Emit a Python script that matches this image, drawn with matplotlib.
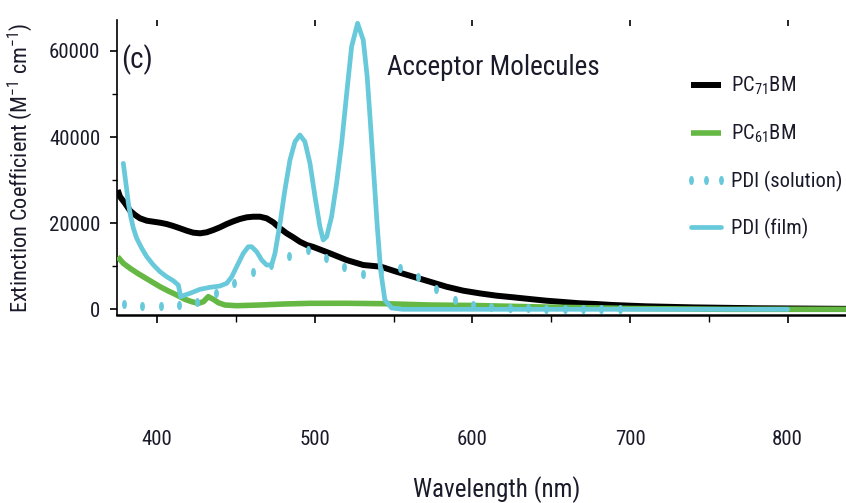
import numpy as np
import matplotlib
matplotlib.use("Agg")
import matplotlib.pyplot as plt
from matplotlib import font_manager as fm
from matplotlib.ticker import FixedLocator

# ---------------- data ----------------
pc71_wl = [375, 376.5, 379.7, 382.9, 386.1, 389.2, 393.5, 397.7, 401.9, 406.1, 410.3,
           414.6, 418.8, 423, 427.3, 431.5, 435.7, 439.9, 444.2, 448.4, 452.6, 456.9,
           461, 465.3, 469.5, 473.7, 478, 482.2, 486.4, 490.6, 494.9, 499, 509.7, 520.2,
           530.8, 542, 551.9, 562.5, 573.1, 583.6, 594.2, 604.8, 615.3, 625.9, 636.4,
           647, 657.6, 668, 678.7, 689, 710, 740, 780, 840]
pc71_val = [27700, 26160, 24620, 22900, 21900, 21140, 20580, 20350, 20120, 19810, 19350,
            18815, 18260, 17800, 17650, 17890, 18420, 19050, 19810, 20440, 20980, 21370,
            21510, 21510, 21140, 20210, 18815, 17650, 16720, 15700, 14940, 14500, 13000,
            11450, 10290, 9900, 8730, 7570, 6410, 5250, 4330, 3700, 3170, 2790, 2390,
            2000, 1700, 1400, 1230, 1000, 700, 450, 250, 100]

pc61_wl = [375, 378.6, 382.9, 387.1, 391.3, 396.6, 401.9, 407.2, 412.5, 417.7, 422,
           426.2, 429.4, 432.5, 435.7, 438.9, 443.1, 450.5, 465.3, 480, 497, 520, 545,
           573, 600, 650, 700, 760, 840]
pc61_val = [12220, 10690, 9520, 8500, 7570, 6410, 5250, 4250, 3320, 2320, 1770,
            1390, 1770, 2930, 2320, 1530, 1000, 840, 1000, 1230, 1390, 1400, 1300,
            1000, 900, 500, 200, 0, 0]

pdi_sol_wl = [379, 390.7, 402.3, 414, 425.6, 437.3, 448.9, 460.6, 472.2, 483.9, 495.5,
              507.2, 518.8, 530.5, 542.1, 553.8, 565.4, 577.1, 588.7, 600.4, 612,
              623.7, 635.3, 647, 658.6, 670.3, 681.9, 693.6]
pdi_sol_val = [1230, 840, 840, 1000, 1770, 3700, 6040, 8730, 10300, 12400, 13700,
               11900, 9900, 8300, 9000, 9700, 7600, 4700, 2200, 900, 500,
               300, 200, 150, 100, 100, 50, 50]

pdi_film_wl = [378.6, 379.7, 380.8, 381.8, 383.3, 385, 387.1, 390.3, 393.5, 397.7, 401.9,
               406.1, 410.3, 413.5, 415, 417.7, 420.9, 427.3, 433.6, 439.9, 444.2, 447.4,
               450.5, 454.7, 457.9, 460, 463.2, 466.4, 469.5, 472.7, 474.8, 478, 481.1,
               484.3, 487.5, 490.6, 493.8, 497, 500.2, 503.3, 505.4, 507.6, 510.7, 513.9,
               517.1, 520.3, 523.4, 527.2, 530.8, 533.3, 535.5, 537.6, 539.7, 541.8,
               544.5, 548.8, 556, 800]
pdi_film_val = [33910, 30800, 27710, 24620, 21510, 18815, 16490, 14170, 12220, 10290, 8730,
                7570, 6640, 5640, 2930, 3320, 3720, 4650, 5110, 5410, 6040, 7570,
                9900, 13000, 14540, 14540, 13380, 11450, 10290, 10290, 13000, 19980, 27710,
                34680, 38930, 40490, 38930, 33910, 26160, 19190, 16100, 16860, 21510, 29270,
                38560, 50170, 61000, 66430, 62550, 54030, 42420, 30800, 19190, 9130,
                2160, 300, 0, 0]

series_labels = ["PC$_{71}$BM", "PC$_{61}$BM", "PDI (solution)", "PDI (film)"]
x_ticks = [400, 500, 600, 700, 800]
x_minor = [450, 550, 650, 750]
y_ticks = [0, 20000, 40000, 60000]
y_minor = [10000, 30000, 50000]

# ---------------- fonts ----------------
names = {f.name for f in fm.fontManager.ttflist}
fam = None
for cand in ["Liberation Sans Narrow", "Roboto Condensed", "Open Sans Condensed"]:
    if cand in names:
        fam = cand
        break
if fam is None:
    fam = "Liberation Sans"
plt.rcParams["font.family"] = [fam, "DejaVu Sans"]
plt.rcParams["mathtext.fontset"] = "custom"
plt.rcParams["mathtext.rm"] = fam
plt.rcParams["mathtext.it"] = fam + ":italic"
plt.rcParams["mathtext.bf"] = fam + ":bold"

BLACK = "#000000"
GREEN = "#64b843"
CYAN = "#68c9da"
TXT = "#1a1a2a"

fig = plt.figure(figsize=(8.46, 5.03), dpi=100)
ax = fig.add_axes([117 / 846, (503 - 315) / 503, 1 - 117 / 846, (315 - 20) / 503])

ax.plot(pc71_wl, pc71_val, color=BLACK, lw=4.3, solid_capstyle="butt",
        solid_joinstyle="round", zorder=2, label=series_labels[0])
ax.plot(pc61_wl, pc61_val, color=GREEN, lw=4.0, solid_capstyle="butt",
        solid_joinstyle="round", zorder=3, label=series_labels[1])
t = np.linspace(0, 2 * np.pi, 30)
ell = np.column_stack([0.45 * np.cos(t), np.sin(t)])
ax.plot(pdi_sol_wl, pdi_sol_val, ls="none", marker=ell, ms=5.5, color=CYAN, mec=CYAN,
        zorder=4, label=series_labels[2])
ax.plot(pdi_film_wl, pdi_film_val, color=CYAN, lw=3.4, solid_capstyle="round",
        solid_joinstyle="round", zorder=5, label=series_labels[3])

ax.set_xlim(374.6, 837)
ax.set_ylim(-1320, 67200)

for s in ["top", "right"]:
    ax.spines[s].set_visible(False)
ax.spines["left"].set_linewidth(1.2)
ax.spines["bottom"].set_linewidth(1.8)

ax.xaxis.set_major_locator(FixedLocator(x_ticks))
ax.xaxis.set_minor_locator(FixedLocator(x_minor))
ax.yaxis.set_major_locator(FixedLocator(y_ticks))
ax.yaxis.set_minor_locator(FixedLocator(y_minor))

ax.tick_params(axis="x", which="major", direction="out", length=6, width=1.2,
               pad=77, labelsize=15, labelcolor=TXT)
ax.tick_params(axis="x", which="minor", direction="out", length=5, width=1.0)
ax.tick_params(axis="y", which="major", direction="out", length=5, width=1.2,
               pad=7, labelsize=15, labelcolor=TXT)
ax.tick_params(axis="y", which="minor", direction="out", length=3.5, width=1.0)

top = ax.secondary_xaxis("top")
top.set_xticks(x_ticks)
top.tick_params(direction="in", length=4, width=1.2, labeltop=False)
top.spines["top"].set_visible(False)

ax.set_xlabel("Wavelength (nm)", fontsize=18, color=TXT)
ax.xaxis.set_label_coords((497 - 117) / 729, (315 - 476) / 295)
ax.set_ylabel("Extinction Coefficient (M$^{-1}$ cm$^{-1}$)", fontsize=16, color=TXT)
ax.yaxis.set_label_coords((35 - 117) / 729, 0.5)

ax.text((121 - 117) / 729, (315 - 68) / 295, "(c)", transform=ax.transAxes,
        fontsize=21, color=TXT, ha="left", va="baseline")
ax.text((387 - 117) / 729, (315 - 75) / 295, "Acceptor Molecules", transform=ax.transAxes,
        fontsize=19.5, color=TXT, ha="left", va="baseline")

leg = ax.legend(loc="upper left", bbox_to_anchor=((685 - 117) / 729, (315 - 75) / 295),
                frameon=False, fontsize=14.8, handlelength=2.05, handletextpad=0.2,
                labelspacing=1.25, borderpad=0, borderaxespad=0, numpoints=3,
                labelcolor=TXT)

fig.savefig("out.png", dpi=100)
